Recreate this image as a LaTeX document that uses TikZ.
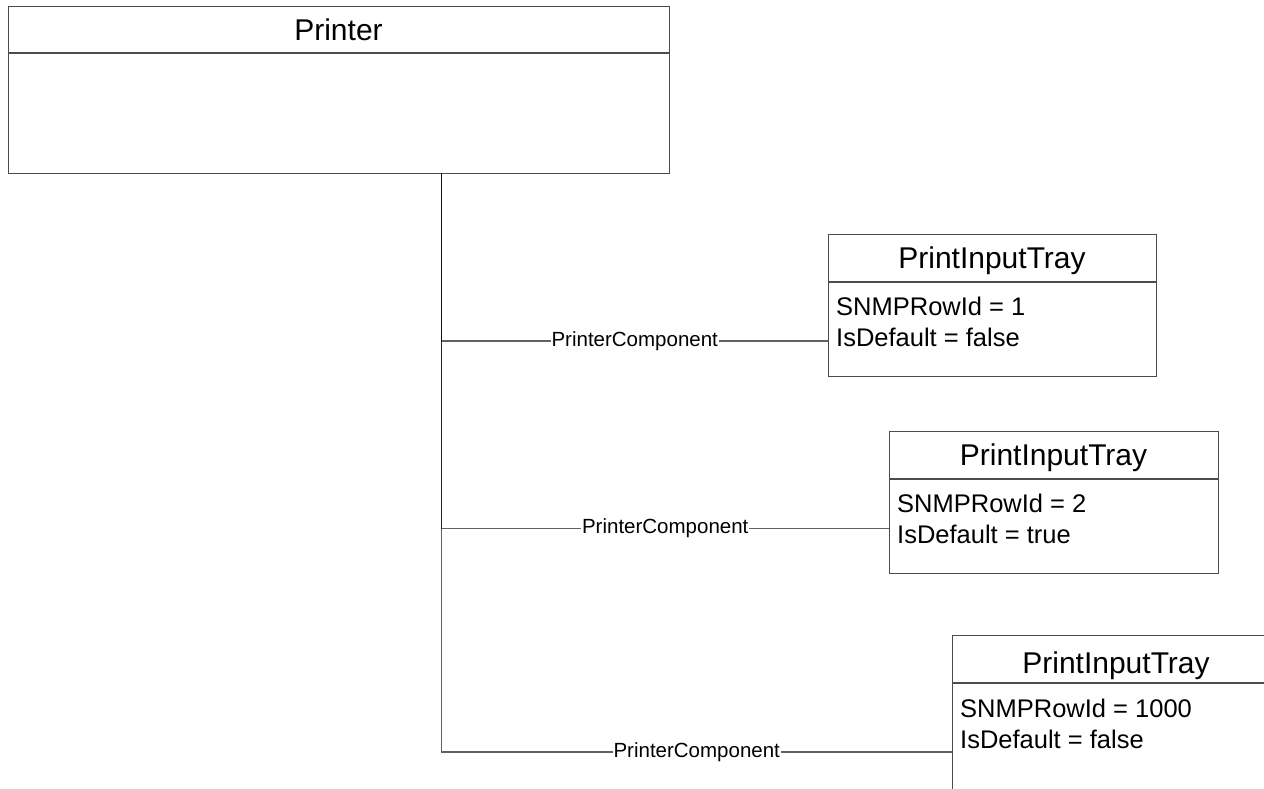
\documentclass[tikz,border=0pt]{standalone}
\usepackage{fontspec}
\setmainfont{Liberation Sans}
\begin{document}
\begin{tikzpicture}[x=1pt,y=-1pt,
  boxline/.style={draw=black!70,line width=1.3pt},
  classbox/.style={boxline,rectangle,inner sep=0pt,anchor=north west},
  titletext/.style={font=\fontsize{30}{34}\selectfont,inner sep=0pt,anchor=base},
  attrtext/.style={font=\fontsize{25.5}{31}\selectfont,inner sep=0pt,anchor=base west},
  conn/.style={draw=black,draw opacity=0.62,line width=1.5pt},
  connlabel/.style={font=\fontsize{20.5}{24}\selectfont,fill=white,inner sep=1pt}]
\useasboundingbox (0,0) rectangle (1264,788);
\clip (0,0) rectangle (1264,788);
% Printer
\node[classbox,minimum width=661pt,minimum height=167pt] (printer) at (8,6) {};
\draw[boxline] (8,53) coordinate (pdl) -- (669,53) coordinate (pdr);
\node[titletext] (printerT) at (338.5,40) {Printer};
% Tray 1
\node[classbox,minimum width=328pt,minimum height=142pt] (tray1) at (828,234) {};
\draw[boxline] (tray1.west |- 0,282) -- (tray1.east |- 0,282);
\node[titletext] (tray1T) at (992,268) {PrintInputTray};
\node[attrtext] (tray1a) at (836,315) {SNMPRowId = 1};
\node[attrtext] (tray1b) at (836,346) {IsDefault = false};
% Tray 2
\node[classbox,minimum width=329pt,minimum height=142pt] (tray2) at (889,431) {};
\draw[boxline] (tray2.west |- 0,479) -- (tray2.east |- 0,479);
\node[titletext] (tray2T) at (1053.5,465) {PrintInputTray};
\node[attrtext] (tray2a) at (897,512) {SNMPRowId = 2};
\node[attrtext] (tray2b) at (897,543) {IsDefault = true};
% Tray 3 (clipped)
\node[classbox,minimum width=328pt,minimum height=170pt] (tray3) at (952,635) {};
\draw[boxline] (tray3.west |- 0,683) -- (tray3.east |- 0,683);
\node[titletext] (tray3T) at (1116,673) {PrintInputTray};
\node[attrtext] (tray3a) at (960,717) {SNMPRowId = 1000};
\node[attrtext] (tray3b) at (960,748) {IsDefault = false};
% connectors
\coordinate (root) at (441.5,173);
\draw[conn] (root) |- (tray1.west |- 0,341) node[connlabel,pos=0.75] (l1) {PrinterComponent};
\draw[conn] (root) |- (tray2.west |- 0,528.5) node[connlabel,pos=0.75] (l2) {PrinterComponent};
\draw[conn] (root) |- (tray3.west |- 0,752) node[connlabel,pos=0.75] (l3) {PrinterComponent};
\end{tikzpicture}
\end{document}
